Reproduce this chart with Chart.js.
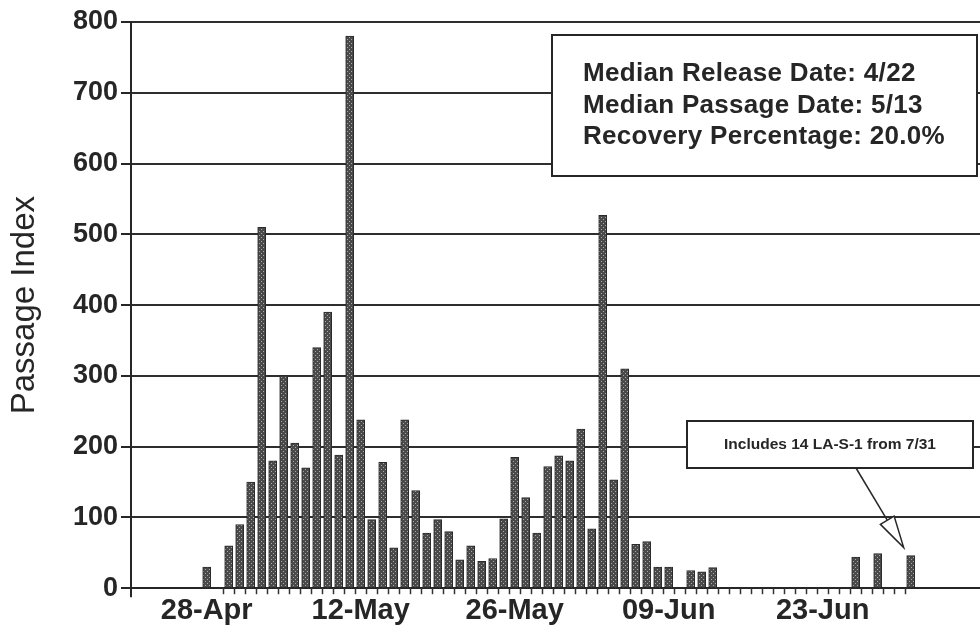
<!DOCTYPE html>
<html>
<head>
<meta charset="utf-8">
<script src="https://cdn.jsdelivr.net/npm/chart.js@4.4.0/dist/chart.umd.min.js"></script>
<style>
  html, body { margin: 0; padding: 0; background: #fff; overflow: hidden; }
  #wrap { width: 980px; height: 637px; position: relative; }
</style>
</head>
<body>
<div id="wrap"><canvas id="c" width="980" height="637"></canvas></div>
<script>
// Daily passage index (days without a bar had no passage)
const dates = [
  '28-Apr', '30-Apr', '01-May', '02-May', '03-May', '04-May', '05-May', '06-May',
  '07-May', '08-May', '09-May', '10-May', '11-May', '12-May', '13-May', '14-May',
  '15-May', '16-May', '17-May', '18-May', '19-May', '20-May', '21-May', '22-May',
  '23-May', '24-May', '25-May', '26-May', '27-May', '28-May', '29-May', '30-May',
  '31-May', '01-Jun', '02-Jun', '03-Jun', '04-Jun', '05-Jun', '06-Jun', '07-Jun',
  '08-Jun', '09-Jun', '11-Jun', '12-Jun', '13-Jun', '26-Jun', '28-Jun', '01-Jul'
];
const passage = [
  30, 60, 90, 150, 510, 180, 300, 205,
  170, 340, 390, 188, 780, 238, 97, 178,
  57, 238, 138, 78, 97, 80, 40, 60,
  38, 42, 98, 185, 128, 78, 172, 187,
  180, 225, 84, 527, 153, 310, 62, 66,
  30, 30, 25, 23, 29, 44, 49, 46
];
const axisDates = ['28-Apr', '12-May', '26-May', '09-Jun', '23-Jun'];
const yTicks = [0, 100, 200, 300, 400, 500, 600, 700, 800];
const statLines = [
  'Median Release Date: 4/22',
  'Median Passage Date: 5/13',
  'Recovery Percentage: 20.0%'
];
const noteText = 'Includes 14 LA-S-1 from 7/31';
// first and last day boundaries that carry a tick mark on the date axis
const tickSpan = ['29-Apr', '30-Jun'];

const MONTHS = { Apr: 3, May: 4, Jun: 5, Jul: 6 };
const ORIGIN = Date.UTC(2001, 3, 28);
function dayIndex(label) {
  const [d, m] = label.split('-');
  return Math.round((Date.UTC(2001, MONTHS[m], +d) - ORIGIN) / 86400000);
}

const ink = '#262626';
const FONT = '"Liberation Sans", Arial, Helvetica, sans-serif';

const canvas = document.getElementById('c');
const ctx = canvas.getContext('2d');

// stippled fill for the bars
const tile = document.createElement('canvas');
tile.width = 4; tile.height = 4;
const tg = tile.getContext('2d');
tg.fillStyle = '#4a4a4a'; tg.fillRect(0, 0, 4, 4);
tg.fillStyle = '#a8a8a8'; tg.fillRect(1, 1, 1, 1); tg.fillRect(3, 3, 1, 1);
const stipple = ctx.createPattern(tile, 'repeat');

// small tick marks between days along the date axis, plus the text boxes
const decorations = {
  id: 'decorations',
  afterDatasetsDraw(chart) {
    const { ctx, scales: { x, y }, chartArea } = chart;
    ctx.save();
    // value axis runs a little past the date axis
    ctx.strokeStyle = ink;
    ctx.lineWidth = 2;
    ctx.beginPath();
    ctx.moveTo(chartArea.left, chartArea.bottom);
    ctx.lineTo(chartArea.left, chartArea.bottom + 9);
    ctx.stroke();

    // day tick marks
    ctx.strokeStyle = '#333';
    ctx.lineWidth = 1.5;
    const a = dayIndex(tickSpan[0]) + 0.5, b = dayIndex(tickSpan[1]) + 0.5;
    for (let d = a; d <= b; d += 1) {
      const px = Math.round(x.getPixelForValue(d)) + 0.5;
      ctx.beginPath();
      ctx.moveTo(px, chartArea.bottom);
      ctx.lineTo(px, chartArea.bottom + 6);
      ctx.stroke();
    }

    // summary box
    const bx = chartArea.left + 421, by = 35, bw = 425, bh = 141;
    ctx.fillStyle = '#fff';
    ctx.fillRect(bx, by, bw, bh);
    ctx.strokeStyle = ink;
    ctx.lineWidth = 2;
    ctx.strokeRect(bx, by, bw, bh);
    ctx.fillStyle = ink;
    ctx.font = 'bold 26px ' + FONT;
    ctx.letterSpacing = '0.3px';
    ctx.textAlign = 'left';
    ctx.textBaseline = 'middle';
    statLines.forEach((t, i) => ctx.fillText(t, bx + 31, by + 39 + i * 31.5));
    ctx.letterSpacing = '0px';

    // callout pointing at the last bar
    const lastDay = dayIndex(dates[dates.length - 1]);
    const lastVal = passage[passage.length - 1];
    const tipX = x.getPixelForValue(lastDay) - 7;
    const tipY = y.getPixelForValue(lastVal) - 8;
    const cx = chartArea.left + 556, cy = 421, cw = 286, ch = 47;
    const sx = cx + 169, sy = cy + ch;
    const dx = tipX - sx, dy = tipY - sy, len = Math.hypot(dx, dy);
    const ux = dx / len, uy = dy / len;
    const hx = tipX - ux * 32, hy = tipY - uy * 32;
    ctx.strokeStyle = ink;
    ctx.lineWidth = 1.5;
    ctx.beginPath();
    ctx.moveTo(sx, sy);
    ctx.lineTo(hx, hy);
    ctx.stroke();
    ctx.beginPath();
    ctx.moveTo(tipX, tipY);
    ctx.lineTo(hx + uy * 8, hy - ux * 8);
    ctx.lineTo(hx - uy * 8, hy + ux * 8);
    ctx.closePath();
    ctx.fillStyle = '#fff';
    ctx.fill();
    ctx.stroke();

    ctx.fillStyle = '#fff';
    ctx.fillRect(cx, cy, cw, ch);
    ctx.lineWidth = 2;
    ctx.strokeRect(cx, cy, cw, ch);
    ctx.fillStyle = ink;
    ctx.font = 'bold 15.5px ' + FONT;
    ctx.textAlign = 'center';
    ctx.fillText(noteText, cx + cw / 2, cy + ch / 2);
    ctx.restore();
  }
};

new Chart(canvas, {
  type: 'bar',
  data: {
    datasets: [{
      data: dates.map((d, i) => ({ x: dayIndex(d), y: passage[i] })),
      backgroundColor: stipple,
      borderColor: '#2b2b2b',
      borderWidth: 1,
      borderSkipped: 'bottom',
      barThickness: 8
    }]
  },
  options: {
    responsive: false,
    animation: false,
    devicePixelRatio: 1,
    layout: { padding: { left: 0, right: 0, top: 22, bottom: 4 } },
    plugins: { legend: { display: false }, tooltip: { enabled: false } },
    scales: {
      x: {
        type: 'linear',
        offset: false,
        min: -6.88,
        max: 70.3,
        afterBuildTicks: s => { s.ticks = axisDates.map(l => ({ value: dayIndex(l) })); },
        grid: { display: false, drawTicks: false, offset: false },
        border: { display: true, color: ink, width: 2 },
        ticks: {
          autoSkip: false,
          maxRotation: 0,
          padding: 5,
          color: ink,
          font: { family: FONT, size: 29, weight: 'bold' },
          callback: v => axisDates.find(l => dayIndex(l) === v) || ''
        }
      },
      y: {
        min: 0,
        max: 800,
        afterBuildTicks: s => { s.ticks = yTicks.map(v => ({ value: v })); },
        afterFit: s => { s.width = 131; },
        grid: { color: '#2e2e2e', lineWidth: 2, tickLength: 10, tickColor: ink },
        border: { display: true, color: ink, width: 2 },
        ticks: {
          padding: 3,
          color: ink,
          font: { family: FONT, size: 27, weight: 'bold' }
        },
        title: {
          display: true,
          text: 'Passage Index',
          color: ink,
          padding: { top: 5, bottom: 0 },
          font: { family: FONT, size: 33, weight: 'normal' }
        }
      }
    }
  },
  plugins: [decorations]
});
</script>
</body>
</html>
